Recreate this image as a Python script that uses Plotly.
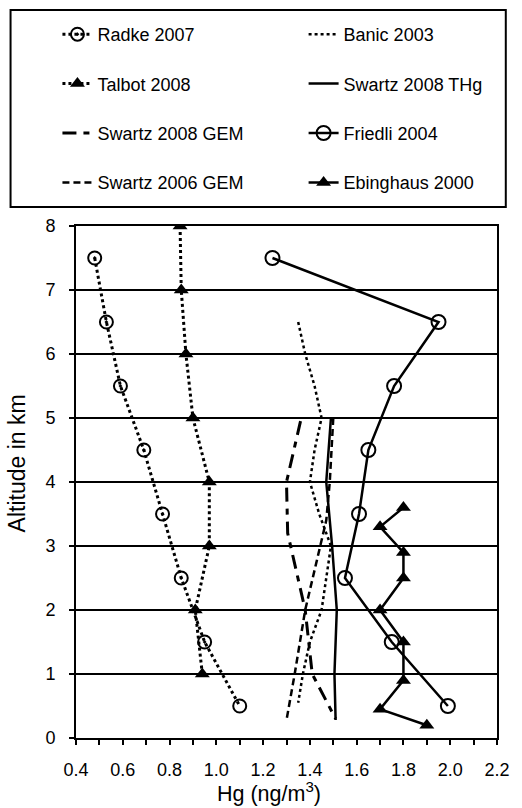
import plotly.graph_objects as go

# ---- data ----
radke_alt = [7.5, 6.5, 5.5, 4.5, 3.5, 2.5, 1.5, 0.5]
radke_hg = [0.48, 0.53, 0.59, 0.69, 0.77, 0.85, 0.95, 1.10]

talbot_alt = [8, 7, 6, 5, 4, 3, 2, 1]
talbot_hg = [0.845, 0.85, 0.87, 0.90, 0.97, 0.97, 0.91, 0.94]

banic_alt = [6.5, 6.0, 5.5, 5.0, 4.5, 4.0, 3.5, 3.0, 2.5, 2.0, 1.5, 1.0, 0.55]
banic_hg = [1.35, 1.38, 1.42, 1.45, 1.42, 1.40, 1.44, 1.49, 1.47, 1.45, 1.40, 1.37, 1.35]

thg08_alt = [5.0, 4.0, 3.0, 2.0, 1.0, 0.28]
thg08_hg = [1.49, 1.47, 1.495, 1.515, 1.505, 1.51]

gem08_alt = [4.95, 4.0, 3.2, 2.8, 2.0, 1.0, 0.3]
gem08_hg = [1.36, 1.30, 1.305, 1.33, 1.38, 1.41, 1.51]

gem06_alt = [5.0, 4.0, 3.4, 3.0, 2.6, 2.0, 1.0, 0.28]
gem06_hg = [1.50, 1.485, 1.47, 1.445, 1.42, 1.38, 1.335, 1.30]

friedli_alt = [7.5, 6.5, 5.5, 4.5, 3.5, 2.5, 1.5, 0.5]
friedli_hg = [1.24, 1.95, 1.76, 1.65, 1.61, 1.55, 1.75, 1.99]

ebing_alt = [3.6, 3.3, 2.9, 2.5, 2.0, 1.5, 0.9, 0.45, 0.2]
ebing_hg = [1.80, 1.70, 1.80, 1.80, 1.70, 1.80, 1.80, 1.70, 1.90]

x_ticks = [0.4, 0.6, 0.8, 1.0, 1.2, 1.4, 1.6, 1.8, 2.0, 2.2]
y_ticks = [0, 1, 2, 3, 4, 5, 6, 7, 8]

x_title = "Hg (ng/m<sup>3</sup>)"
y_title = "Altitude in km"

FONT = "Liberation Sans, Arial, sans-serif"
BLACK = "black"

fig = go.Figure()

def add(name, xs, ys, dash, width, legend, group, marker=None):
    kw = dict(x=xs, y=ys, name=name, mode="lines",
              line=dict(color=BLACK, width=width, dash=dash),
              legend=legend, legendgroup=group)
    if marker is not None:
        kw["marker"] = marker
        kw["mode"] = "lines+markers"
    fig.add_trace(go.Scatter(**kw))

circ_dot = dict(symbol=["circle-open-dot"] * 7 + ["circle-open"], size=13,
                color=BLACK, line=dict(color=BLACK, width=2))
circ = dict(symbol="circle-open", size=14, color=BLACK, line=dict(color=BLACK, width=2))
tri = dict(symbol="triangle-up", size=13, color=BLACK, line=dict(color=BLACK, width=0))

# left legend column
add("Radke 2007", radke_hg, radke_alt, "dot", 3, "legend", "a", circ_dot)
add("Talbot 2008", talbot_hg, talbot_alt, "dot", 3, "legend", "b", tri)
add("Swartz 2008 GEM", gem08_hg, gem08_alt, "14px,7px,6px,7px", 3, "legend", "c")
add("Swartz 2006 GEM", gem06_hg, gem06_alt, "7px,4px", 2.5, "legend", "d")
# right legend column
add("Banic 2003", banic_hg, banic_alt, "dot", 2.5, "legend2", "e")
add("Swartz 2008 THg", thg08_hg, thg08_alt, "solid", 2.5, "legend2", "f")
add("Friedli 2004", friedli_hg, friedli_alt, "solid", 2.5, "legend2", "g", circ)
add("Ebinghaus 2000", ebing_hg, ebing_alt, "solid", 2.5, "legend2", "h", tri)

L, R, T, B = 76, 15, 226, 70
W, H = 522, 808
pw, ph = W - L - R, H - T - B

def px_x(p):
    return (p - L) / pw

def px_y(p):
    return (H - B - p) / ph

leg_common = dict(font=dict(family=FONT, size=18, color=BLACK), bgcolor="rgba(0,0,0,0)",
                  traceorder="grouped", tracegroupgap=23, orientation="v",
                  xanchor="left", yanchor="top")

fig.update_layout(
    width=W, height=H,
    margin=dict(l=L, r=R, t=T, b=B),
    paper_bgcolor="white", plot_bgcolor="white",
    font=dict(family=FONT, size=18, color=BLACK),
    legend=dict(x=px_x(57), y=px_y(16), **leg_common),
    legend2=dict(x=px_x(309), y=px_y(16), **leg_common),
    xaxis=dict(range=[0.4, 2.2], tickvals=x_ticks, tickformat=".1f",
               ticks="outside", ticklen=5, tickwidth=1.5, tickcolor=BLACK,
               minor=dict(dtick=0.1, ticks="outside", ticklen=5, tickwidth=1.5, tickcolor=BLACK),
               showgrid=False, zeroline=False,
               showline=True, linewidth=2, linecolor=BLACK, mirror=True,
               tickfont=dict(family=FONT, size=18, color=BLACK), ticklabelstandoff=9),
    yaxis=dict(range=[0, 8], tickvals=y_ticks,
               ticks="outside", ticklen=5, tickwidth=1.5, tickcolor=BLACK,
               showgrid=True, gridcolor=BLACK, gridwidth=1.5, zeroline=False,
               showline=True, linewidth=2, linecolor=BLACK, mirror=True,
               tickfont=dict(family=FONT, size=18, color=BLACK), ticklabelstandoff=10),
    shapes=[dict(type="rect", xref="paper", yref="paper",
                 x0=px_x(9), x1=px_x(516), y0=px_y(207), y1=px_y(10),
                 line=dict(color=BLACK, width=2), fillcolor="rgba(0,0,0,0)", layer="above")],
    annotations=[
        dict(text=x_title, xref="paper", yref="paper", x=px_x(274), y=px_y(808),
             xanchor="center", yanchor="bottom", showarrow=False,
             font=dict(family=FONT, size=21.5, color=BLACK)),
        dict(text=y_title, xref="paper", yref="paper", x=px_x(16), y=px_y(463),
             xanchor="center", yanchor="middle", showarrow=False, textangle=-90,
             font=dict(family=FONT, size=23, color=BLACK)),
    ],
)

fig.write_html("out.html")
